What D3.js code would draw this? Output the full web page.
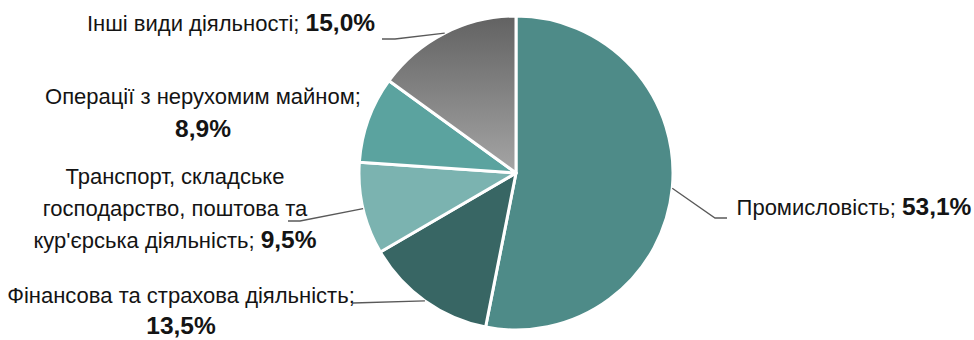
<!DOCTYPE html>
<html>
<head>
<meta charset="utf-8">
<script src="https://cdn.jsdelivr.net/npm/d3@7"></script>
<style>
  html, body { margin: 0; padding: 0; background: #fff; }
  svg { display: block; }
  text { font-family: "Liberation Sans", Arial, sans-serif; fill: #141414; }
</style>
</head>
<body>
<svg id="chart" width="974" height="340"></svg>
<script>
// Share of each activity, percent
const categories = [
  "Промисловість",
  "Фінансова та страхова діяльність",
  "Транспорт, складське господарство, поштова та кур'єрська діяльність",
  "Операції з нерухомим майном",
  "Інші види діяльності"
];
const values = [53.1, 13.5, 9.5, 8.9, 15.0];
const valueLabels = ["53,1%", "13,5%", "9,5%", "8,9%", "15,0%"];
// Wrapped label lines; an empty last line puts the value on its own line
const labelLines = [
  ["Промисловість; "],
  ["Фінансова та страхова діяльність;", ""],
  ["Транспорт, складське", "господарство, поштова та", "кур'єрська діяльність; "],
  ["Операції з нерухомим майном;", ""],
  ["Інші види діяльності; "]
];
const colors = ["#4e8b88", "#386664", "#7bb3b0", "#5ba39f", "url(#greyGrad)"];

const svg = d3.select("#chart");
const cx = 516, cy = 173, R = 157;

// Vertical grey gradient for the last slice (coordinates local to the pie group)
const defs = svg.append("defs");
const grad = defs.append("linearGradient")
  .attr("id", "greyGrad")
  .attr("gradientUnits", "userSpaceOnUse")
  .attr("x1", 0).attr("y1", -R).attr("x2", 0).attr("y2", 0);
grad.append("stop").attr("offset", "0%").attr("stop-color", "#626262");
grad.append("stop").attr("offset", "100%").attr("stop-color", "#a5a5a5");

const pie = d3.pie().sort(null).value(d => d);
const arcs = pie(values);
const arc = d3.arc().innerRadius(0).outerRadius(R);

const g = svg.append("g").attr("transform", `translate(${cx},${cy})`);
g.selectAll("path.slice")
  .data(arcs)
  .join("path")
  .attr("class", "slice")
  .attr("d", arc)
  .attr("fill", (d, i) => colors[i])
  .attr("stroke", "#fff")
  .attr("stroke-width", 3)
  .attr("stroke-linejoin", "round");

// Leader line start on the rim, at each slice's mid angle
function rimPoint(d, r) {
  const a = (d.startAngle + d.endAngle) / 2;
  return [cx + r * Math.sin(a), cy - r * Math.cos(a)];
}

// Label placement: centre x, first baseline, line step, leader elbow and end
const layout = [
  { x: 854, y: 215, step: 32, elbow: [715, 218], end: [727, 218] },
  { x: 181, y: 303, step: 31, elbow: null, end: [353, 303] },
  { x: 175, y: 184, step: 32, elbow: [300, 221], end: [288, 221] },
  { x: 203, y: 104, step: 33, elbow: null, end: null },
  { x: 231, y: 31, step: 32, elbow: [395, 39], end: [382, 39] }
];

const regularSize = "22px", boldSize = "24.5px";
arcs.forEach((d, i) => {
  const L = layout[i];
  if (L.end) {
    const pts = [rimPoint(d, R)];
    if (L.elbow) pts.push(L.elbow);
    pts.push(L.end);
    svg.append("path")
      .attr("d", d3.line()(pts))
      .attr("fill", "none")
      .attr("stroke", "#595959")
      .attr("stroke-width", 1.3);
  }
  const t = svg.append("text")
    .attr("text-anchor", "middle")
    .attr("x", L.x).attr("y", L.y);
  const lines = labelLines[i];
  lines.forEach((ln, j) => {
    const last = j === lines.length - 1;
    if (ln) {
      t.append("tspan")
        .attr("x", L.x)
        .attr("dy", j === 0 ? 0 : L.step)
        .style("font-size", regularSize)
        .text(ln);
    }
    if (last) {
      const v = t.append("tspan")
        .style("font-size", boldSize)
        .style("font-weight", "bold")
        .text(valueLabels[i]);
      if (!ln) v.attr("x", L.x).attr("dy", L.step);
    }
  });
});
</script>
</body>
</html>
